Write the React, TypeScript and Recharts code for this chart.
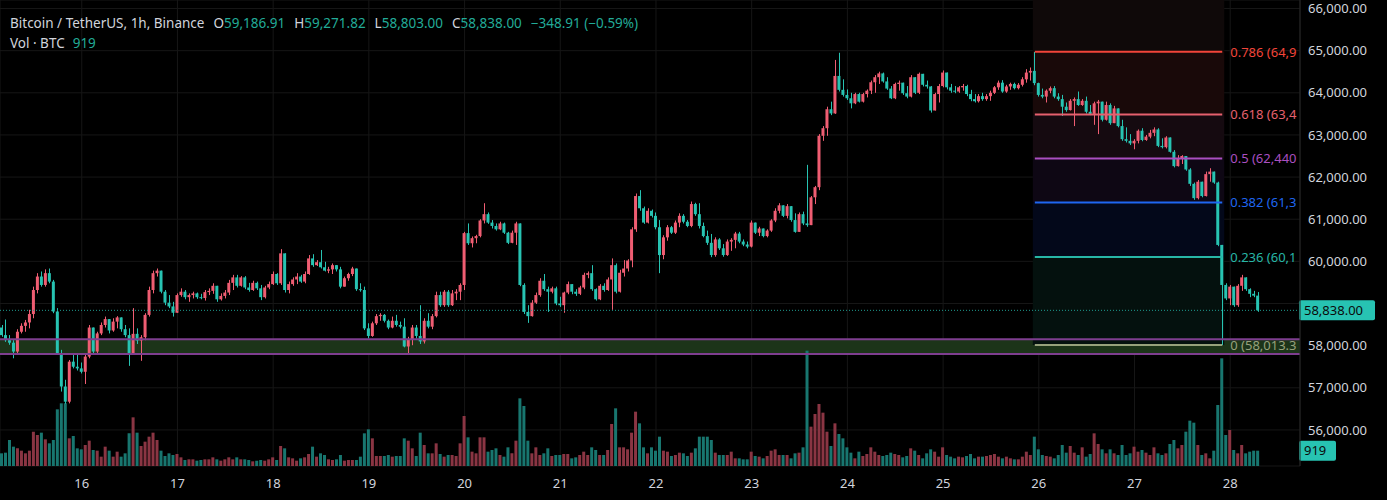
import React from "react";
import {
  ComposedChart,
  Bar,
  Cell,
  XAxis,
  YAxis,
  CartesianGrid,
  ReferenceArea,
  ReferenceLine,
} from "recharts";

// colours (this chart uses red = up, teal = down)
const UP = "#ef5d72";
const DOWN = "#27c3b2";
const VOL_UP = "#8a3543";
const VOL_DOWN = "#18766f";
const TEXT = "#d1d4dc";
const FONT = "'Noto Sans', sans-serif";

// 1h candles, Binance BTC/USDT, 15th 04:00 -> 28th 07:00
const FIRST_OPEN = 58430;
const CLOSE = [
  58250, 58130, 58070, 57860, 58330, 58470, 58550, 58750, 59320, 59640, 59440, 59720,
  59520, 58810, 57820, 57030, 56670, 57620, 57500, 57460, 57380, 57740, 58430, 57860,
  58290, 58490, 58630, 58360, 58570, 58670, 58390, 58250, 57820, 58280, 58120, 58200,
  58730, 59320, 59720, 59780, 59280, 59020, 58930, 58780, 59200, 59280, 59150, 59200,
  59240, 59150, 59130, 59270, 59300, 59420, 59100, 59180, 59260, 59490, 59620, 59420,
  59620, 59380, 59320, 59490, 59360, 59150, 59380, 59460, 59700, 59480, 60190, 59320,
  59460, 59570, 59640, 59520, 59700, 60070, 59910, 59980, 59860, 59780, 59810, 59910,
  59810, 59400, 59600, 59700, 59830, 59340, 59320, 58410, 58230, 58530, 58700, 58730,
  58590, 58430, 58590, 58490, 58450, 57980, 58150, 58430, 58230, 58100, 58590, 58450,
  58700, 59200, 58960, 59280, 58960, 59240, 59280, 59440, 60670, 60430, 60550, 60600,
  60970, 61120, 60920, 60840, 60760, 60900, 60680, 60440, 60680, 60900, 59440, 58800,
  58700, 59020, 59200, 59540, 59340, 59280, 59360, 59000, 58960, 59260, 59460, 59280,
  59230, 59380, 59680, 59720, 59340, 59100, 59420, 59320, 59570, 59910, 59280, 59730,
  59830, 60020, 60760, 61550, 61260, 60920, 61200, 61080, 60810, 60150, 60570, 60810,
  60680, 60920, 61080, 60940, 60840, 61360, 61120, 60840, 60600, 60440, 60150, 60520,
  60310, 60150, 60470, 60510, 60660, 60470, 60400, 60350, 60920, 60680, 60780, 60600,
  60730, 60970, 61200, 61330, 61080, 61310, 60980, 60700, 61120, 60900, 60860, 61520,
  61760, 62980, 63160, 63610, 63510, 64400, 64070, 63950, 63870, 63750, 63970, 63790,
  63970, 64050, 64250, 64370, 64460, 64270, 64100, 63870, 64210, 64240, 63990, 63910,
  64370, 64000, 64450, 64190, 64150, 63580, 63970, 64160, 64480, 64130, 64050, 64030,
  64130, 64160, 63970, 63850, 63800, 63920, 63850, 63920, 64000, 64130, 64240, 64030,
  64150, 64210, 64110, 64190, 64320, 64480, 64520, 64230, 63950, 63910, 64050, 64110,
  63910, 63850, 63670, 63590, 63810, 63850, 63710, 63810, 63550, 63500, 63750, 63790,
  63360, 63710, 63280, 63630, 63210, 62900, 62860, 62800, 62860, 63100, 62880, 62960,
  63050, 63130, 62740, 62710, 62940, 62600, 62260, 62440, 62500, 62180, 61840, 61500,
  61890, 61550, 62070, 62130, 61870, 60390, 59440, 59120, 59400, 58960, 59420, 59620,
  59340, 59230, 59186.91, 58838,
];
const HIGH = [
  58490, 58620, 58250, 58130, 58390, 58530, 58610, 58850, 59400, 59720, 59760, 59810,
  59830, 59560, 58890, 57900, 57190, 57660, 57820, 57780, 57600, 57780, 58490, 58250,
  58330, 58550, 58690, 58610, 58650, 58700, 58670, 58490, 58410, 58890, 58410, 58250,
  58770, 59400, 59780, 59830, 59760, 59320, 59200, 59040, 59240, 59360, 59320, 59240,
  59280, 59260, 59230, 59320, 59360, 59480, 59380, 59240, 59320, 59560, 59680, 59680,
  59650, 59650, 59490, 59540, 59520, 59440, 59420, 59520, 59760, 59720, 60290, 60190,
  59520, 59620, 59720, 59680, 59760, 60150, 60170, 60030, 60270, 59990, 59870, 59950,
  59910, 59870, 59640, 59730, 59870, 59830, 59480, 59400, 58530, 58570, 58750, 58770,
  58750, 58620, 58690, 58730, 58570, 58650, 58210, 58490, 58490, 58960, 58650, 58770,
  58750, 59280, 59280, 59320, 59320, 59320, 59340, 59480, 60700, 60900, 60590, 60630,
  61000, 61380, 61160, 60980, 60900, 60940, 60920, 60700, 60730, 60940, 60900, 59480,
  58960, 59080, 59260, 59600, 59700, 59400, 59400, 59400, 59160, 59280, 59520, 59440,
  59340, 59420, 59730, 59760, 59910, 59360, 59460, 59480, 59620, 60070, 59950, 59800,
  60030, 60050, 60810, 61610, 61690, 61300, 61260, 61230, 61160, 60980, 60620, 60860,
  60840, 60970, 61140, 61120, 60980, 61420, 61390, 61380, 60920, 60730, 60650, 60570,
  60550, 60410, 60520, 60550, 60700, 60700, 60520, 60470, 60970, 60860, 60820, 60740,
  60760, 61000, 61260, 61380, 61310, 61360, 61200, 61140, 61160, 61180, 62290, 61550,
  61790, 63020, 63210, 63670, 63790, 64780, 64950, 64320, 64080, 64000, 64000, 64000,
  64000, 64080, 64290, 64420, 64500, 64480, 64370, 64160, 64240, 64290, 64240, 64160,
  64420, 64300, 64480, 64400, 64290, 64160, 64000, 64210, 64530, 64300, 64210, 64160,
  64160, 64210, 64190, 64070, 63970, 63970, 64000, 63970, 64050, 64160, 64290, 64300,
  64190, 64240, 64240, 64230, 64370, 64560, 64600, 64970, 64240, 64100, 64080, 64150,
  64160, 63990, 63950, 63770, 63850, 63890, 64030, 63850, 63910, 63710, 63790, 63830,
  63790, 63790, 63750, 63690, 63630, 63360, 63180, 63020, 62900, 63130, 63160, 63000,
  63120, 63180, 63160, 62920, 62970, 62920, 62640, 62520, 62520, 62500, 62210, 61870,
  61930, 61890, 62130, 62210, 62130, 61890, 60390, 59480, 59440, 59380, 59460, 59680,
  59620, 59360, 59300, 59271.82,
];
const LOW = [
  58210, 58090, 58020, 57700, 57820, 58290, 58330, 58410, 58650, 59240, 59400, 59400,
  59480, 58770, 57780, 56910, 56620, 56630, 57460, 57410, 57340, 57090, 57700, 57780,
  57820, 58250, 58430, 58290, 58330, 58410, 58330, 58200, 57520, 57780, 58040, 57640,
  58130, 58690, 59240, 59640, 59240, 58960, 58890, 58690, 58810, 59160, 59100, 59040,
  59120, 59110, 59100, 59070, 59200, 59230, 59040, 59070, 59120, 59200, 59320, 59380,
  59400, 59340, 59280, 59300, 59320, 59080, 59120, 59340, 59440, 59440, 59440, 59260,
  59240, 59420, 59460, 59490, 59480, 59680, 59870, 59890, 59830, 59760, 59720, 59700,
  59760, 59360, 59440, 59540, 59650, 59300, 59280, 58370, 58170, 58210, 58490, 58590,
  58550, 58390, 58410, 58450, 58410, 57960, 57800, 58010, 58170, 58040, 58050, 58410,
  58390, 58670, 58920, 58920, 58920, 58940, 59080, 59080, 59320, 60390, 60330, 60430,
  60570, 60900, 60890, 60780, 60730, 60740, 60650, 60410, 60430, 60390, 59410, 58750,
  58540, 58690, 58990, 59160, 59300, 58800, 59240, 58960, 58920, 58780, 59220, 59220,
  59180, 59200, 59340, 59600, 59300, 59070, 59080, 59280, 59300, 58850, 59240, 59260,
  59640, 59760, 59860, 60700, 61200, 60890, 60900, 61040, 60760, 59720, 60050, 60490,
  60650, 60650, 60810, 60900, 60810, 60810, 61080, 60780, 60570, 60390, 60100, 60110,
  60270, 60110, 60130, 60250, 60310, 60430, 60360, 60310, 60330, 60650, 60600, 60570,
  60570, 60700, 60930, 61140, 61050, 61020, 60940, 60680, 60760, 60860, 60820, 60920,
  61360, 61690, 62860, 62980, 63470, 63500, 64030, 63910, 63830, 63630, 63730, 63770,
  63770, 63890, 63970, 64000, 64210, 64240, 64070, 63850, 63850, 64050, 63950, 63870,
  63890, 63970, 63970, 64150, 64100, 63530, 63580, 63770, 64130, 64080, 64000, 63990,
  64000, 64050, 63920, 63800, 63770, 63770, 63810, 63810, 63810, 63970, 64070, 64000,
  64000, 64070, 64080, 64080, 64150, 64240, 64290, 64180, 63910, 63870, 63770, 63990,
  63870, 63810, 63450, 63550, 63580, 63210, 63690, 63690, 63510, 63470, 63240, 63020,
  63320, 63340, 63240, 63280, 63180, 62860, 62820, 62760, 62660, 62800, 62850, 62860,
  62920, 62970, 62710, 62680, 62680, 62580, 62230, 62250, 62310, 62150, 61790, 61460,
  61470, 61520, 61540, 61890, 61840, 60360, 58013.3, 59080, 58960, 58920, 58920, 59300,
  59300, 59150, 59150, 58803,
];
// volume in BTC
const VOLUME = [
  760, 800, 1560, 1160, 1060, 920, 760, 920, 2060, 1860, 2000, 1600,
  1360, 1560, 3400, 3760, 3760, 1660, 1800, 1060, 1000, 1260, 1520, 960,
  920, 560, 1160, 920, 560, 860, 560, 760, 1960, 2920, 2000, 1200,
  1460, 1760, 2000, 1560, 920, 600, 760, 660, 720, 520, 360, 400,
  400, 320, 360, 400, 400, 520, 400, 320, 400, 520, 400, 520,
  400, 400, 360, 280, 320, 360, 320, 400, 520, 360, 1200, 1060,
  520, 460, 320, 460, 520, 720, 1160, 560, 760, 660, 400, 360,
  400, 660, 320, 360, 360, 360, 560, 1960, 2200, 1660, 600, 600,
  600, 660, 560, 600, 600, 1660, 1520, 1060, 600, 2000, 1260, 760,
  760, 1360, 720, 560, 660, 660, 600, 1360, 3000, 1720, 860, 760,
  1720, 1720, 860, 960, 1060, 660, 560, 1120, 760, 1520, 4060, 3600,
  1520, 760, 1120, 660, 760, 1060, 600, 660, 660, 720, 720, 460,
  520, 660, 860, 660, 1120, 960, 660, 660, 960, 2520, 3460, 1120,
  1120, 1000, 2000, 3260, 2560, 1120, 760, 1120, 920, 1760, 920, 860,
  600, 660, 800, 760, 600, 800, 1060, 1760, 1760, 1760, 1560, 800,
  660, 660, 660, 860, 460, 460, 400, 400, 860, 600, 560, 460,
  600, 920, 1000, 660, 660, 660, 460, 760, 800, 1120, 6920, 2360,
  3120, 3720, 3200, 2060, 1200, 2560, 1920, 1660, 1120, 800, 460, 860,
  600, 720, 1120, 860, 660, 600, 660, 800, 720, 660, 520, 600,
  1060, 920, 660, 460, 760, 1000, 860, 560, 1120, 660, 560, 460,
  560, 520, 600, 720, 460, 560, 560, 600, 660, 720, 560, 460,
  560, 460, 400, 400, 560, 860, 660, 1760, 1000, 660, 600, 560,
  460, 660, 1260, 800, 1200, 800, 660, 1120, 560, 720, 1960, 1320,
  1000, 760, 1000, 760, 660, 1260, 660, 760, 1160, 860, 960, 800,
  660, 1120, 760, 660, 760, 1320, 1560, 1060, 1260, 2060, 2720, 2600,
  1260, 660, 760, 460, 920, 3660, 6460, 1860, 2160, 960, 760, 1260,
  760, 860, 920, 919,
];
const EMPTY_SLOTS = 10; // blank hours to the right of the last candle

const DAY_INDEX = [20, 44, 68, 92, 116, 140, 164, 188, 212, 236, 260, 284, 308];
const DAY_LABELS = ["16", "17", "18", "19", "20", "21", "22", "23", "24", "25", "26", "27", "28"];

const PRICE_TICKS = [56000, 57000, 58000, 59000, 60000, 61000, 62000, 63000, 64000, 65000, 66000];
const PRICE_DOMAIN = [55144, 66202];
const VOL_DOMAIN = [0, 27960];

// fib retracement drawn from the 26th high to the 27th low
const FIB_FROM = 259;
const FIB_TO = 306;
const FIB_PRICES = [64972.1, 63484.7, 62440.0, 61395.3, 60102.7, 58013.3];
const FIB_LABELS = ["0.786 (64,9", "0.618 (63,4", "0.5 (62,440", "0.382 (61,3", "0.236 (60,1", "0 (58,013.3"];
const FIB_COLORS = ["#f2453a", "#e6606e", "#aa4fc0", "#1f66f0", "#27b6a6", "#97a17c"];
// band fills: chart top..0.786, 0.786..0.618, ... , 0.236..0
const FIB_FILLS = ["#0f0909", "#190909", "#150a10", "#0e0714", "#03081a", "#04110e"];

const ZONE = [57800, 58150];
const ZONE_FILL = "#1c3419";
const ZONE_EDGE = "#7e3e8f";

const LAST_PRICE = 58838;
const LAST_VOL = 919;
const HIDDEN_TICKS = [59000];

const HEADER_VALUES = [
  ["O", "59,186.91"],
  ["H", "59,271.82"],
  ["L", "58,803.00"],
  ["C", "58,838.00"],
];
const HEADER_CHANGE = "\u2212348.91 (\u22120.59%)";
const HEADER_VALUE_COLOR = "#22ab98";

const rows = Array.from({ length: CLOSE.length + EMPTY_SLOTS }, (_, i) => {
  if (i >= CLOSE.length) return { i, range: null, vol: null };
  const o = i === 0 ? FIRST_OPEN : CLOSE[i - 1];
  const c = CLOSE[i];
  const h = Math.max(HIGH[i], o, c);
  const l = Math.min(LOW[i], o, c);
  return { i, o, h, l, c, range: [l, h], vol: VOLUME[i], up: c >= o };
});

const fibBounds = [PRICE_DOMAIN[1], ...FIB_PRICES];

const fmtPrice = (v: number) =>
  v.toLocaleString("en-US", { minimumFractionDigits: 2, maximumFractionDigits: 2 });

function Candle(props: any) {
  const { x, y, width, height, payload } = props;
  if (!payload || payload.c == null) return null;
  const { o, h, l, c, up } = payload;
  const color = up ? UP : DOWN;
  const ppu = h > l ? height / (h - l) : 0;
  const top = y + (h - Math.max(o, c)) * ppu;
  const bot = y + (h - Math.min(o, c)) * ppu;
  const cx = Math.round(x + width / 2) + 0.5;
  return (
    <g>
      <line x1={cx} x2={cx} y1={y} y2={y + height} stroke={color} strokeWidth={1} />
      <rect x={x} y={top} width={width} height={Math.max(1, bot - top)} fill={color} />
    </g>
  );
}

function PriceTick(props: any) {
  const { x, y, payload } = props;
  if (HIDDEN_TICKS.includes(payload.value)) return null;
  return (
    <text x={x} y={y} dy="0.36em" fill={TEXT} fontSize={13} fontFamily={FONT}>
      {fmtPrice(payload.value)}
    </text>
  );
}

function lineEnd(vb: any) {
  if (!vb) return { x: 0, y: 0 };
  if (vb.x2 != null) return { x: Math.max(vb.x1, vb.x2), y: vb.y1 };
  return { x: vb.x + (vb.width || 0), y: vb.y };
}

function fibLabel(text: string, color: string) {
  return (p: any) => {
    const { x, y } = lineEnd(p.viewBox);
    return (
      <text x={x + 8} y={y} dy="0.36em" fill={color} fontSize={13} fontFamily={FONT}>
        {text}
      </text>
    );
  };
}

function tagLabel(text: string, w: number) {
  return (p: any) => {
    const { x, y } = lineEnd(p.viewBox);
    return (
      <g>
        <rect x={x - 1} y={y - 10} width={w} height={20} rx={2} fill={DOWN} />
        <text x={x + 4} y={y} dy="0.36em" fill="#0b0b0b" fontSize={13} fontFamily={FONT}>
          {text}
        </text>
      </g>
    );
  };
}

export default function App() {
  return (
    <div style={{ position: "relative", width: 1387, height: 500, background: "#000" }}>
      <style>{`body{margin:0;background:#000;}`}</style>
      <ComposedChart
        width={1387}
        height={500}
        data={rows}
        margin={{ top: 0, right: 0, bottom: 0, left: 0 }}
      >
        <CartesianGrid stroke="#161616" xAxisId="x" yAxisId="p" />
        <XAxis
          xAxisId="x"
          dataKey="i"
          type="category"
          ticks={DAY_INDEX}
          interval={0}
          tickFormatter={(v) => DAY_LABELS[DAY_INDEX.indexOf(v)] ?? ""}
          tickLine={false}
          axisLine={false}
          height={34}
          tickMargin={7}
          tick={{ fill: TEXT, fontSize: 13, fontFamily: FONT }}
        />
        <XAxis xAxisId="xv" dataKey="i" type="category" hide />
        <YAxis
          yAxisId="p"
          orientation="right"
          width={87}
          type="number"
          domain={PRICE_DOMAIN}
          allowDataOverflow
          ticks={PRICE_TICKS}
          interval={0}
          tickLine={false}
          axisLine={{ stroke: "#262626" }}
          tickSize={6}
          tickMargin={2}
          tick={<PriceTick />}
        />
        <YAxis yAxisId="v" type="number" domain={VOL_DOMAIN} allowDataOverflow hide />

        <ReferenceArea
          xAxisId="x"
          yAxisId="p"
          y1={ZONE[0]}
          y2={ZONE[1]}
          fill={ZONE_FILL}
          fillOpacity={1}
          stroke="none"
        />
        {FIB_FILLS.map((fill, j) => (
          <ReferenceArea
            key={`fa${j}`}
            xAxisId="x"
            yAxisId="p"
            x1={FIB_FROM}
            x2={FIB_TO}
            y1={fibBounds[j + 1]}
            y2={fibBounds[j]}
            fill={fill}
            fillOpacity={1}
            stroke="none"
          />
        ))}
        <ReferenceLine xAxisId="x" yAxisId="p" y={ZONE[0]} stroke={ZONE_EDGE} strokeWidth={2} />
        <ReferenceLine xAxisId="x" yAxisId="p" y={ZONE[1]} stroke={ZONE_EDGE} strokeWidth={2} />

        <Bar xAxisId="xv" yAxisId="v" dataKey="vol" barSize={3} isAnimationActive={false}>
          {rows.map((r) => (
            <Cell key={r.i} fill={r.up ? VOL_UP : VOL_DOWN} />
          ))}
        </Bar>

        {FIB_PRICES.map((p, j) => (
          <ReferenceLine
            key={`fl${j}`}
            xAxisId="x"
            yAxisId="p"
            segment={[
              { x: FIB_FROM, y: p },
              { x: FIB_TO, y: p },
            ]}
            stroke={FIB_COLORS[j]}
            strokeWidth={2}
            label={fibLabel(FIB_LABELS[j], FIB_COLORS[j])}
          />
        ))}

        <ReferenceLine
          xAxisId="x"
          yAxisId="p"
          y={LAST_PRICE}
          stroke="#1f9c90"
          strokeDasharray="1 2"
          label={tagLabel(fmtPrice(LAST_PRICE), 76)}
        />

        <Bar
          xAxisId="x"
          yAxisId="p"
          dataKey="range"
          barSize={3}
          shape={<Candle />}
          isAnimationActive={false}
        />

        <ReferenceLine
          xAxisId="x"
          yAxisId="v"
          y={LAST_VOL}
          stroke="none"
          label={tagLabel(String(LAST_VOL), 37)}
        />
      </ComposedChart>

      <div
        style={{
          position: "absolute",
          left: 10,
          top: 13,
          fontFamily: FONT,
          fontSize: 13.5,
          lineHeight: "20px",
          color: TEXT,
          whiteSpace: "nowrap",
        }}
      >
        <div>
          <span>Bitcoin / TetherUS, 1h, Binance</span>
          {HEADER_VALUES.map(([k, v]) => (
            <span key={k} style={{ marginLeft: 9 }}>
              {k}
              <span style={{ color: HEADER_VALUE_COLOR }}>{v}</span>
            </span>
          ))}
          <span style={{ marginLeft: 9, color: HEADER_VALUE_COLOR }}>{HEADER_CHANGE}</span>
        </div>
        <div>
          <span>Vol · BTC</span>
          <span style={{ marginLeft: 8, color: HEADER_VALUE_COLOR }}>{LAST_VOL}</span>
        </div>
      </div>
    </div>
  );
}
